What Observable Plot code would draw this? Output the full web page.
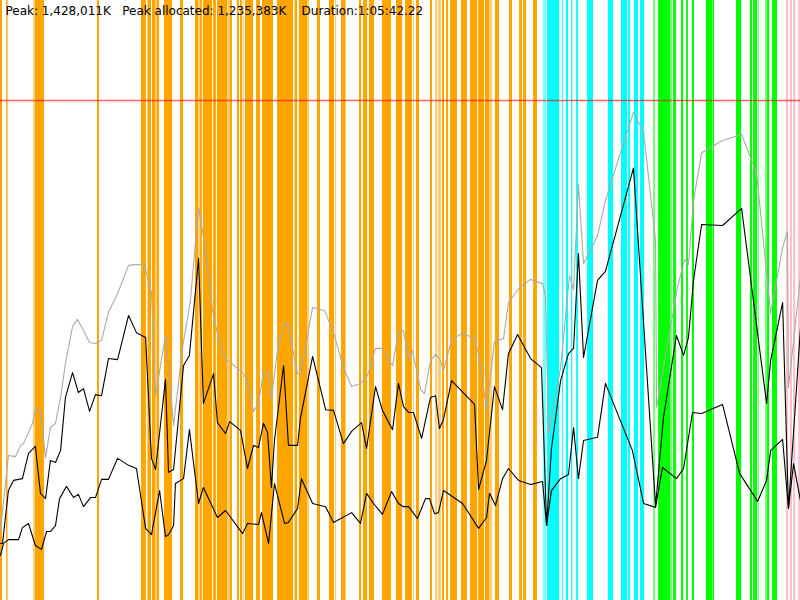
<!DOCTYPE html>
<html>
<head>
<meta charset="utf-8">
<script src="https://cdn.jsdelivr.net/npm/d3@7"></script>
<script src="https://cdn.jsdelivr.net/npm/@observablehq/plot@0.6"></script>
<style>
  html, body { margin: 0; padding: 0; background: #fff; }
  #chart { width: 800px; height: 600px; }
</style>
</head>
<body>
<div id="chart"></div>
<script>
// Values in thousands of K; time in seconds
const peak = 1428.011;
const peakAllocated = 1235.383;
const durationSec = 3942.22;
const yMax = 1713.6;
const titleText = "Peak: 1,428,011K\u00a0\u00a0\u00a0Peak allocated: 1,235,383K\u00a0\u00a0\u00a0\u00a0Duration:1:05:42.22";

// committed heap (gray)
const heapT = [0,39,74,99,113,158,172,197,222,246,271,296,320,355,379,409,439,468,498,532,577,631,670,710,744,764,813,853,897,936,976,1005,1045,1069,1109,1133,1198,1217,1247,1271,1296,1321,1335,1365,1395,1414,1464,1478,1538,1597,1641,1690,1730,1774,1809,1848,1878,1932,1961,1986,2011,2030,2070,2089,2119,2144,2163,2183,2223,2277,2336,2356,2395,2434,2479,2503,2558,2612,2671,2686,2701,2760,2804,2824,2848,2873,2942,2981,3046,3119,3169,3228,3233,3267,3336,3371,3390,3415,3455,3558,3652,3726,3795,3854,3878,3883,3942];
const heapV = [200,414,411,443,448,506,548,543,408,494,506,580,677,783,803,771,737,734,743,823,877,957,960,957,880,585,757,500,723,857,1122,1022,828,763,688,680,648,623,540,563,651,651,577,714,785,794,648,645,837,828,765,665,611,620,643,720,720,671,768,771,688,714,603,591,685,703,691,657,745,763,748,705,548,740,748,851,894,917,905,871,477,665,928,888,1188,962,1042,1142,1262,1394,1337,1028,551,665,894,974,960,1142,1279,1314,1331,1220,820,1008,1054,608,922];

// used before collection (upper black)
const usedT = [0,10,39,64,108,138,172,197,222,246,271,296,320,355,384,409,439,468,498,532,577,631,670,715,744,764,813,828,853,902,931,976,1000,1050,1069,1109,1129,1183,1217,1247,1271,1296,1316,1335,1350,1395,1419,1464,1478,1538,1602,1641,1690,1730,1779,1804,1848,1882,1932,1961,1986,2011,2035,2075,2119,2144,2163,2183,2223,2336,2356,2395,2434,2474,2503,2548,2612,2666,2691,2715,2760,2799,2824,2848,2873,2942,2981,3119,3228,3267,3331,3366,3390,3415,3455,3558,3652,3775,3795,3854,3883,3942];
const usedV = [163,163,314,343,348,420,440,306,291,400,394,428,580,651,594,605,540,588,585,691,688,814,765,751,406,374,631,366,374,671,700,977,563,648,508,477,511,486,377,443,437,506,480,323,457,671,443,443,520,697,545,543,448,483,508,434,611,543,488,620,554,537,537,463,580,585,491,517,628,560,317,400,611,545,705,760,691,665,214,434,628,705,720,991,694,914,940,1235,271,523,757,700,751,914,1074,1071,1120,563,685,851,263,777];

// live after collection (lower black)
const liveT = [0,15,39,89,108,138,172,202,227,246,271,291,325,360,384,409,444,468,498,532,577,631,670,715,744,784,813,828,853,862,902,931,976,1000,1069,1109,1193,1217,1271,1286,1321,1350,1400,1419,1464,1483,1538,1602,1641,1730,1774,1804,1838,1882,1927,1961,1986,2011,2055,2094,2114,2139,2158,2183,2277,2356,2395,2410,2439,2474,2503,2553,2612,2671,2691,2715,2760,2799,2824,2848,2873,2942,2981,3114,3169,3228,3262,3331,3366,3410,3455,3558,3642,3731,3775,3795,3854,3883,3908,3942];
const liveV = [129,163,174,174,208,220,157,146,197,197,214,291,326,294,303,268,294,294,346,346,406,386,377,206,188,314,183,188,214,334,348,488,277,323,237,257,191,220,217,251,163,334,220,223,263,348,277,268,223,251,220,306,277,246,311,277,268,268,234,291,291,248,251,314,277,206,237,306,271,348,377,343,331,340,214,314,348,360,494,348,457,466,620,428,277,266,380,348,377,537,534,560,363,283,343,428,460,263,391,286];

// collection events [start, end] in seconds
const youngFull = [[0,10],[30,37],[172,217],[478,488],[695,719],[729,744],[749,764],[774,784],[808,848],[887,902],[961,976],[986,995],[1000,1045],[1050,1064],[1069,1119],[1133,1143],[1168,1178],[1183,1193],[1207,1247],[1262,1281],[1291,1345],[1365,1444],[1454,1464],[1473,1513],[1562,1577],[1621,1646],[1680,1700],[1769,1779],[1789,1809],[1818,1843],[1882,1927],[1951,1981],[1996,2030],[2050,2065],[2119,2129],[2178,2188],[2198,2208],[2218,2252],[2272,2301],[2316,2351],[2356,2385],[2390,2410],[2439,2459],[2508,2523],[2558,2572],[2577,2592],[2627,2646]];
const youngLight = [[163,172],[724,729],[764,774],[976,986],[1119,1133],[1198,1202],[1449,1454],[1513,1523],[1651,1656],[1700,1705],[2035,2040],[2144,2154],[2158,2173],[2410,2425]];
const mixedFull = [[2696,2755],[2770,2775],[2789,2799],[2814,2820],[2839,2848],[2893,2922],[2996,3021],[3060,3090],[3095,3105],[3124,3144],[3154,3174]];
const mixedLight = [[2676,2691]];
const fullFull = [[3243,3302],[3317,3331],[3356,3366],[3381,3390],[3410,3420],[3479,3509],[3512,3519],[3627,3652],[3696,3706],[3711,3731],[3780,3790],[3804,3829]];
const fullLight = [[3218,3228],[3302,3312],[3735,3740],[3770,3780]];
const otherFull = [[3873,3883],[3893,3903],[3908,3918],[3933,3942]];

function toRows(list, phase, strong) {
  return list.map(([s, e]) => ({s, e, phase, strong}));
}
const events = [
  ...toRows(youngFull, "young", true), ...toRows(youngLight, "young", false),
  ...toRows(mixedFull, "mixed", true), ...toRows(mixedLight, "mixed", false),
  ...toRows(fullFull, "full", true), ...toRows(fullLight, "full", false),
  ...toRows(otherFull, "other", true)
];
const series = (T, V) => T.map((t, i) => ({t, v: V[i]}));
const heap = series(heapT, heapV);
const used = series(usedT, usedV);
const live = series(liveT, liveV);

const chart = Plot.plot({
  width: 800,
  height: 600,
  margin: 0,
  x: {domain: [0, durationSec], axis: null},
  y: {domain: [0, yMax], axis: null},
  color: {domain: ["young", "mixed", "full", "other"], range: ["#ffa500", "#00ffff", "#00ff00", "#ffc0cb"]},
  style: {background: "#fff", overflow: "visible"},
  marks: [
    Plot.rect(events, {x1: "s", x2: "e", fill: "phase", fillOpacity: d => d.strong ? 1 : 0.55}),
    Plot.ruleY([peak], {stroke: "#ff0000", strokeOpacity: 0.6, strokeWidth: 1.5}),
    Plot.line(heap, {x: "t", y: "v", stroke: "#aaaaaa", strokeWidth: 1.1}),
    Plot.line(used, {x: "t", y: "v", stroke: "#000", strokeWidth: 1.1}),
    Plot.line(live, {x: "t", y: "v", stroke: "#000", strokeWidth: 1.1}),
    Plot.text([titleText], {frameAnchor: "top-left", text: d => d, textAnchor: "start", lineAnchor: "top", dx: 5, dy: 6, fontSize: 12, fontFamily: "DejaVu Sans", fill: "#000"})
  ]
});
document.getElementById("chart").appendChild(chart);
</script>
</body>
</html>
